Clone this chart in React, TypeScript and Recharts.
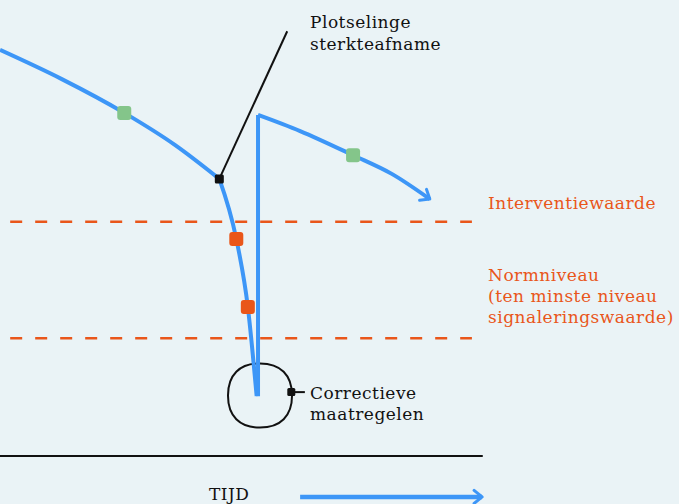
import React from "react";
import { ComposedChart, Line, Scatter, XAxis, YAxis, ReferenceLine } from "recharts";

// conceptual axes: t = time (0..100), L = strength level (0..100)
const declineBefore = [
  { t: 0, L: 90.1 },
  { t: 9.1, L: 84.3 },
  { t: 18.3, L: 77.6 },
  { t: 25.8, L: 71.2 },
  { t: 32.3, L: 64.5 },
];
const suddenDrop = [
  { t: 32.3, L: 64.5 },
  { t: 34.8, L: 52.6 },
  { t: 36.5, L: 39.1 },
  { t: 37.8, L: 21.4 },
];
const recovery = [
  { t: 38.0, L: 21.4 },
  { t: 38.0, L: 77.2 },
];
const declineAfter = [
  { t: 38.0, L: 77.2 },
  { t: 44.2, L: 74.0 },
  { t: 52.0, L: 69.2 },
  { t: 57.7, L: 65.5 },
  { t: 63.3, L: 60.5 },
];
const greenMarkers = [
  { t: 18.3, L: 77.6 },
  { t: 52.0, L: 69.2 },
];
const orangeMarkers = [
  { t: 34.8, L: 52.6 },
  { t: 36.5, L: 39.1 },
];
const calloutPoint = [{ t: 32.3, L: 64.5 }];
const calloutLeader = [
  { t: 32.3, L: 64.5 },
  { t: 42.3, L: 93.8 },
];
const correctiveRing = [
  { t: 43.39, L: 21.53 },
  { t: 42.25, L: 16.19 },
  { t: 38.29, L: 14.66 },
  { t: 34.33, L: 16.19 },
  { t: 33.2, L: 21.53 },
  { t: 34.33, L: 26.87 },
  { t: 38.29, L: 28.39 },
  { t: 42.25, L: 26.87 },
];
const correctiveLeader = [
  { t: 42.9, L: 22.2 },
  { t: 44.9, L: 22.2 },
];
const interventionLevel = 56.0;
const normLevel = 32.9;
const levelSpan = [1.5, 69.5];
const timeBase = [
  { t: 0, L: 9.5 },
  { t: 71.1, L: 9.5 },
];
const timeArrow = [
  { t: 44.2, L: 1.4 },
  { t: 71.0, L: 1.4 },
];

const BLUE = "#3d96f7";
const ORANGE = "#e9561a";
const GREEN = "#84c58a";
const INK = "#111111";
const BG = "#eaf3f6";

const arrowDot = (angle: number, count: number) => (props: any) => {
  const { cx, cy, index } = props;
  if (index !== count - 1) return <g key={`n${index}`} />;
  return (
    <path
      key="arrowhead"
      d="M-8,-6.5 L0,0 L-8,6.5"
      transform={`translate(${cx},${cy}) rotate(${angle})`}
      fill="none"
      stroke={BLUE}
      strokeWidth={3}
      strokeLinecap="round"
      strokeLinejoin="round"
    />
  );
};

const square = (size: number, fill: string, radius: number) => (props: any) => (
  <rect x={props.cx - size / 2} y={props.cy - size / 2} width={size} height={size} rx={radius} fill={fill} />
);

const textStyle: React.CSSProperties = {
  position: "absolute",
  fontFamily: "'DejaVu Serif', serif",
  fontSize: 17,
  letterSpacing: 0.5,
  lineHeight: "21px",
  whiteSpace: "pre",
};

const lineBase = { dataKey: "L", isAnimationActive: false, activeDot: false, legendType: "none" as const };

export default function App() {
  return (
    <div style={{ position: "absolute", left: 0, top: 0, width: 679, height: 504, background: BG, overflow: "hidden" }}>
      <ComposedChart width={679} height={504} margin={{ top: 0, right: 0, bottom: 0, left: 0 }}>
        <XAxis type="number" dataKey="t" domain={[0, 100]} hide />
        <YAxis type="number" dataKey="L" domain={[0, 100]} hide />
        <ReferenceLine
          segment={[{ x: levelSpan[0], y: interventionLevel }, { x: levelSpan[1], y: interventionLevel }]}
          stroke={ORANGE}
          strokeWidth={2.5}
          strokeDasharray="12 13"
        />
        <ReferenceLine
          segment={[{ x: levelSpan[0], y: normLevel }, { x: levelSpan[1], y: normLevel }]}
          stroke={ORANGE}
          strokeWidth={2.5}
          strokeDasharray="12 13"
        />
        <Line {...lineBase} data={timeBase} type="linear" stroke={INK} strokeWidth={2} dot={false} />
        <Line {...lineBase} data={timeArrow} type="linear" stroke={BLUE} strokeWidth={4.5} dot={arrowDot(0, timeArrow.length)} />
        <Line {...lineBase} data={calloutLeader} type="linear" stroke={INK} strokeWidth={2} dot={false} />
        <Line {...lineBase} data={correctiveRing} type="basisClosed" stroke={INK} strokeWidth={2} dot={false} />
        <Line {...lineBase} data={correctiveLeader} type="linear" stroke={INK} strokeWidth={2} dot={false} />
        <Line {...lineBase} data={declineBefore} type="monotone" stroke={BLUE} strokeWidth={4} dot={false} />
        <Line {...lineBase} data={suddenDrop} type="monotone" stroke={BLUE} strokeWidth={4} dot={false} />
        <Line {...lineBase} data={recovery} type="linear" stroke={BLUE} strokeWidth={4} dot={false} />
        <Line {...lineBase} data={declineAfter} type="monotone" stroke={BLUE} strokeWidth={4} strokeLinejoin="round" dot={arrowDot(32, declineAfter.length)} />
        <Scatter data={greenMarkers} dataKey="L" shape={square(14, GREEN, 3)} isAnimationActive={false} />
        <Scatter data={orangeMarkers} dataKey="L" shape={square(14, ORANGE, 3)} isAnimationActive={false} />
        <Scatter data={calloutPoint} dataKey="L" shape={square(9, INK, 1.5)} isAnimationActive={false} />
        <Scatter data={[correctiveLeader[0]]} dataKey="L" shape={square(8, INK, 1.5)} isAnimationActive={false} />
      </ComposedChart>
      <div style={{ ...textStyle, left: 310, top: 11, color: INK, lineHeight: "22px" }}>{"Plotselinge\nsterkteafname"}</div>
      <div style={{ ...textStyle, left: 488, top: 193, color: ORANGE }}>{"Interventiewaarde"}</div>
      <div style={{ ...textStyle, left: 488, top: 265, color: ORANGE }}>{"Normniveau\n(ten minste niveau\nsignaleringswaarde)"}</div>
      <div style={{ ...textStyle, left: 310, top: 383, color: INK }}>{"Correctieve\nmaatregelen"}</div>
      <div style={{ ...textStyle, left: 209, top: 484, color: INK }}>{"TIJD"}</div>
    </div>
  );
}
